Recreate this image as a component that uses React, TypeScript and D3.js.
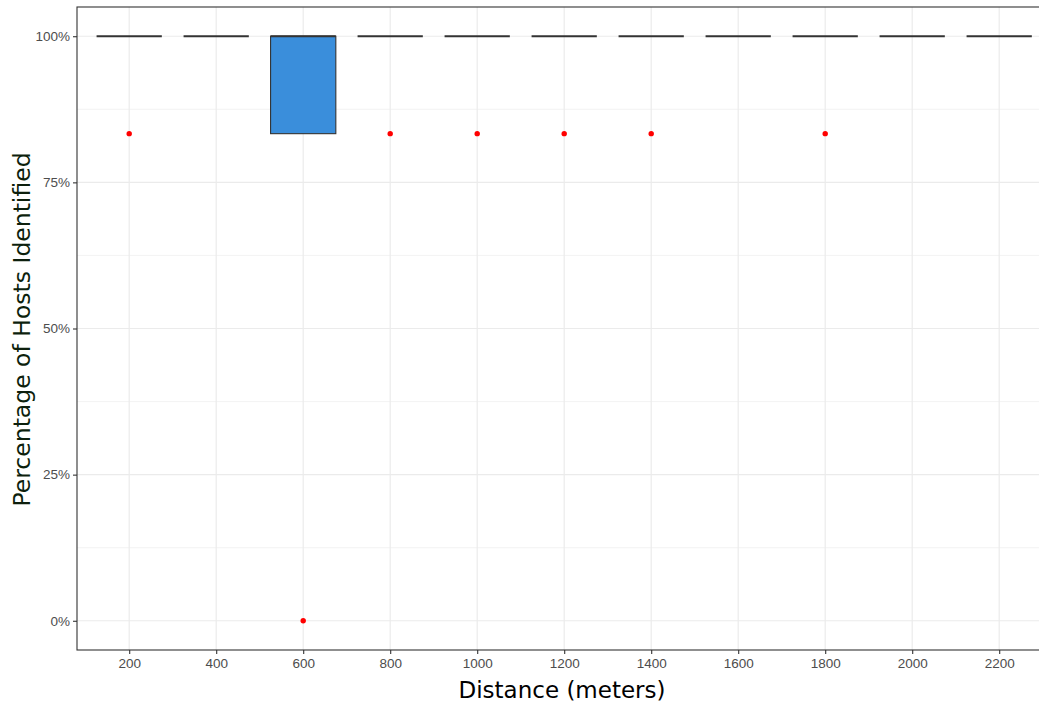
import React, { useEffect, useRef } from 'react'
import * as d3 from 'd3'

// boxplot summaries per distance (fraction of hosts identified)
const categories = ['200', '400', '600', '800', '1000', '1200', '1400', '1600', '1800', '2000', '2200']
const q1Values = [1, 1, 0.8333, 1, 1, 1, 1, 1, 1, 1, 1]
const medianValues = [1, 1, 1, 1, 1, 1, 1, 1, 1, 1, 1]
const q3Values = [1, 1, 1, 1, 1, 1, 1, 1, 1, 1, 1]
const outlierCats = ['200', '600', '800', '1000', '1200', '1400', '1800']
const outlierValues = [0.8333, 0, 0.8333, 0.8333, 0.8333, 0.8333, 0.8333]
const yTicks = [0, 0.25, 0.5, 0.75, 1]
const yMinor = [0.125, 0.375, 0.625, 0.875]

const W = 1039
const H = 705

const App = () => {
  const ref = useRef<SVGSVGElement>(null)

  useEffect(() => {
    const svg = d3.select(ref.current)
    svg.selectAll('*').remove()

    const margin = {top: 7, left: 77, bottom: 55}
    const n = categories.length
    // ggplot discrete expansion: 0.6 units on each side
    const step = 87
    const left = margin.left
    const right = left + step * (n - 1 + 1.2)
    const top = margin.top
    const bottom = H - margin.bottom

    const x = d3.scalePoint<string>()
      .domain(categories)
      .range([left + 0.6 * step, right - 0.6 * step])

    const y = d3.scaleLinear()
      .domain([-0.05, 1.05])
      .range([bottom, top])

    const plot = svg.append('g')

    // grid
    plot.selectAll('.minor')
      .data(yMinor)
      .join('line')
      .attr('x1', left).attr('x2', right)
      .attr('y1', d => y(d)).attr('y2', d => y(d))
      .attr('stroke', '#ebebeb').attr('stroke-width', 0.6)
    plot.selectAll('.majory')
      .data(yTicks)
      .join('line')
      .attr('x1', left).attr('x2', right)
      .attr('y1', d => y(d)).attr('y2', d => y(d))
      .attr('stroke', '#ebebeb').attr('stroke-width', 1.2)
    plot.selectAll('.majorx')
      .data(categories)
      .join('line')
      .attr('x1', d => x(d)!).attr('x2', d => x(d)!)
      .attr('y1', top).attr('y2', bottom)
      .attr('stroke', '#ebebeb').attr('stroke-width', 1.2)

    // boxes
    const bw = step * 0.75
    const boxes = plot.selectAll('.box')
      .data(categories)
      .join('g')

    boxes.append('rect')
      .attr('x', d => x(d)! - bw / 2)
      .attr('y', (d, i) => y(q3Values[i]))
      .attr('width', bw)
      .attr('height', (d, i) => y(q1Values[i]) - y(q3Values[i]))
      .attr('fill', (d, i) => q3Values[i] > q1Values[i] ? '#3a8edb' : 'none')
      .attr('stroke', '#333333')
      .attr('stroke-width', (d, i) => q3Values[i] > q1Values[i] ? 1.1 : 0)

    boxes.append('line')
      .attr('x1', d => x(d)! - bw / 2)
      .attr('x2', d => x(d)! + bw / 2)
      .attr('y1', (d, i) => y(medianValues[i]))
      .attr('y2', (d, i) => y(medianValues[i]))
      .attr('stroke', '#333333')
      .attr('stroke-width', 2.2)

    // outliers
    plot.selectAll('.out')
      .data(outlierCats)
      .join('circle')
      .attr('cx', d => x(d)!)
      .attr('cy', (d, i) => y(outlierValues[i]))
      .attr('r', 2.7)
      .attr('fill', '#ff0000')

    // panel border
    plot.append('rect')
      .attr('x', left).attr('y', top)
      .attr('width', right - left).attr('height', bottom - top)
      .attr('fill', 'none').attr('stroke', '#333333').attr('stroke-width', 1.1)

    // axes
    const xAxis = svg.append('g')
      .attr('transform', `translate(0,${bottom})`)
      .call(d3.axisBottom(x).tickSizeOuter(0).tickSize(4).tickPadding(3))
    const yAxis = svg.append('g')
      .attr('transform', `translate(${left},0)`)
      .call(d3.axisLeft(y).tickValues(yTicks).tickFormat(d3.format('.0%')).tickSize(4).tickPadding(3))

    for (const g of [xAxis, yAxis]) {
      g.select('.domain').remove()
      g.selectAll('line').attr('stroke', '#333333').attr('stroke-width', 1.1)
      g.selectAll('text')
        .attr('fill', '#4d4d4d')
        .attr('font-family', '"Liberation Sans", Arial, sans-serif')
        .attr('font-size', 13.5)
    }
    xAxis.selectAll('text').attr('dy', '0.85em')

    svg.append('text')
      .attr('x', 562)
      .attr('y', 698)
      .attr('text-anchor', 'middle')
      .attr('font-family', '"DejaVu Sans", Verdana, sans-serif')
      .attr('font-size', 23)
      .attr('fill', '#000000')
      .text('Distance (meters)')

    svg.append('text')
      .attr('transform', `translate(30,${(152 + 507) / 2}) rotate(-90)`)
      .attr('text-anchor', 'middle')
      .attr('font-family', '"DejaVu Sans", Verdana, sans-serif')
      .attr('font-size', 23.5)
      .attr('fill', '#0d1f0d')
      .text('Percentage of Hosts Identified')
  }, [])

  return <svg ref={ref} width={W} height={H}
    style={{position: 'absolute', left: 0, top: 0, background: '#ffffff'}} />
}

export default App
